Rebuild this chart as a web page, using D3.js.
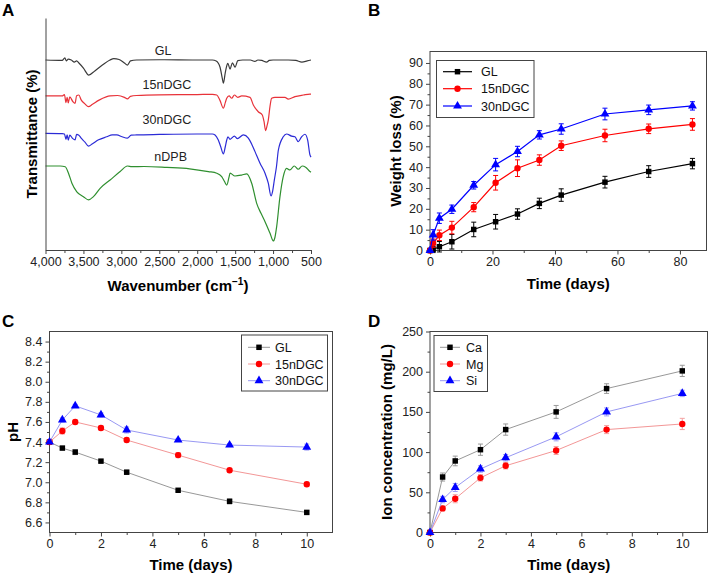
<!DOCTYPE html>
<html><head><meta charset="utf-8">
<script src="https://cdn.jsdelivr.net/npm/d3@7"></script>
<style>
body{margin:0;background:#fff;}
svg{display:block;font-family:"Liberation Sans",Arial,sans-serif;}
</style></head><body>
<svg id="c" width="708" height="573"></svg>
<script>
// ---------- Panel A: FTIR spectra (wavenumber, transmittance %) ----------
const ftirNames = ["GL","15nDGC","30nDGC","nDPB"];
const ftirGL = [[4000,81.9],[3780,81.7],[3745,82.8],[3725,81.5],[3700,82.3],[3660,81.9],[3620,81.0],[3590,81.5],[3560,80.6],[3500,78.4],[3430,75.4],[3350,77.2],[3250,79.7],[3150,81.9],[3100,82.5],[3030,82.1],[2960,80.6],[2920,79.7],[2880,81.5],[2800,81.9],[2500,82.0],[2000,81.9],[1800,81.9],[1750,81.5],[1700,78.9],[1670,74.1],[1655,71.9],[1630,76.5],[1610,79.5],[1597,80.5],[1567,78.0],[1536,80.7],[1501,78.8],[1465,81.6],[1400,81.9],[1300,81.9],[1240,81.3],[1200,81.9],[1150,81.7],[1085,81.0],[1050,81.7],[1000,81.9],[800,81.9],[700,81.7],[620,81.0],[550,81.5],[500,81.9]];
const ftir15 = [[4000,66.4],[3780,66.4],[3750,67.0],[3730,63.5],[3715,65.8],[3700,63.4],[3680,66.0],[3640,64.0],[3610,63.2],[3590,66.5],[3560,66.8],[3530,64.7],[3480,63.0],[3434,61.8],[3380,62.8],[3300,64.5],[3200,66.0],[3148,66.4],[3050,66.6],[2960,65.8],[2920,65.1],[2880,66.2],[2800,66.6],[2500,66.9],[2000,67.0],[1800,67.1],[1742,66.8],[1700,64.5],[1655,61.1],[1630,63.5],[1611,65.4],[1580,66.4],[1545,65.4],[1510,66.8],[1466,65.8],[1413,66.4],[1304,65.8],[1260,62.5],[1195,59.6],[1142,58.2],[1120,55.5],[1098,51.4],[1080,53.5],[1063,56.0],[1040,62.0],[1019,65.4],[975,65.8],[843,65.8],[800,65.0],[712,66.1],[600,66.8],[514,67.2],[500,67.2]];
const ftir30 = [[4000,50.3],[3780,50.2],[3750,50.0],[3730,47.7],[3715,49.6],[3700,47.4],[3680,49.5],[3640,48.0],[3610,47.5],[3590,49.8],[3560,49.5],[3530,48.2],[3480,46.5],[3434,44.8],[3380,45.8],[3300,47.5],[3192,48.8],[3120,49.6],[3060,49.6],[2990,48.8],[2920,48.2],[2870,49.5],[2800,49.6],[2500,49.8],[2000,50.0],[1800,50.0],[1765,49.6],[1722,47.4],[1690,44.5],[1655,41.4],[1630,44.5],[1611,47.4],[1595,48.8],[1567,47.7],[1510,49.1],[1470,48.0],[1392,49.6],[1326,48.2],[1280,45.5],[1238,42.4],[1172,37.4],[1106,33.1],[1063,28.8],[1027,23.3],[1005,25.5],[983,30.2],[955,36.0],[930,43.1],[866,48.8],[822,50.0],[756,49.1],[712,48.8],[668,46.7],[624,48.8],[580,49.9],[544,47.4],[514,41.0],[500,40.0]];
const ftirDPB = [[4000,36.2],[3806,36.2],[3740,35.9],[3697,33.1],[3652,28.8],[3587,25.1],[3500,23.0],[3434,21.6],[3368,23.0],[3280,26.6],[3148,30.2],[3016,33.8],[2920,36.2],[2862,35.9],[2700,36.0],[2400,35.6],[2100,35.0],[1853,33.8],[1742,33.1],[1677,31.6],[1640,29.5],[1611,28.0],[1580,31.5],[1567,33.1],[1502,31.9],[1413,32.3],[1348,32.8],[1282,28.8],[1216,20.1],[1159,15.8],[1106,12.2],[1040,7.2],[997,3.9],[975,5.5],[953,10.0],[909,23.0],[866,31.6],[822,35.2],[778,34.5],[721,36.2],[668,34.8],[616,36.2],[571,35.7],[514,33.8],[500,33.5]];
const ftirLabelPos = [[2450,84],[2400,69.5],[2400,54.5],[2350,38.5]]; // label anchor (wavenumber, transmittance)
const ftirTicks = [4000,3500,3000,2500,2000,1500,1000,500];

// ---------- Panel B: weight loss ----------
const bDays = [0,1,3,7,14,21,28,35,42,56,70,84];
const bNames = ["GL","15nDGC","30nDGC"];
const bGL = [0,0.5,1.8,4.2,10.1,13.8,17.5,22.6,26.6,32.8,37.9,41.7];
const bGLerr = [0,1.5,2.5,3.5,3.5,3.5,2.5,2.5,3,2.8,2.8,2.5];
const b15 = [0,3.5,7.3,11.0,20.8,32.5,39.5,43.4,50.3,55.2,58.4,60.5];
const b15err = [0,2,2.5,3,2.2,3.5,4,2.5,2.3,3,2.3,2.8];
const b30 = [0,7.5,15.5,19.8,31.3,41.2,47.5,55.5,58.3,65.5,67.5,69.4];
const b30err = [0,2.5,2.5,2,1.8,3,2.5,2,2.5,2.8,2.3,2];
const bYTicks = [0,10,20,30,40,50,60,70,80,90];
const bXTicks = [0,20,40,60,80];

// ---------- Panel C: pH ----------
const cDays = [0,0.5,1,2,3,5,7,10];
const cGL = [7.40,7.34,7.30,7.21,7.10,6.92,6.81,6.70];
const cGLerr = [0.01,0.015,0.025,0.01,0.02,0.01,0.025,0.015];
const c15 = [7.40,7.51,7.60,7.54,7.42,7.27,7.12,6.98];
const c15err = [0.01,0.03,0.02,0.02,0.02,0.025,0.015,0.02];
const c30 = [7.40,7.62,7.76,7.67,7.52,7.42,7.37,7.35];
const c30err = [0.01,0.02,0.015,0.02,0.03,0.015,0.015,0.03];
const cYTicks = [6.6,6.8,7.0,7.2,7.4,7.6,7.8,8.0,8.2,8.4];
const cXTicks = [0,2,4,6,8,10];

// ---------- Panel D: ion concentration ----------
const dNames = ["Ca","Mg","Si"];
const dCa = [0,69,89,103,128,150,179,201];
const dCaErr = [0,5,6,7,7,8,6,7];
const dMg = [0,30,42,68,83,102,128,135];
const dMgErr = [0,3,5,4,4,5,5,7];
const dSi = [0,41,56,79,93,119,150,173];
const dSiErr = [0,4,5,4,4,5,5,4];
const dYTicks = [0,50,100,150,200,250];

const svg = d3.select("#c");
const FONT = "Liberation Sans, Arial, sans-serif";

function letter(t,x,y){
  svg.append("text").attr("x",x).attr("y",y).attr("font-size",17).attr("font-weight","bold").text(t);
}

// ---------------- Panel A ----------------
(function(){
  const x = d3.scaleLinear().domain([4000,500]).range([45.5,311]);
  const y = d3.scaleLinear().domain([0,100]).range([250,18]);
  const g = svg.append("g");
  const colors = ["#3a3a3a","#e8333a","#2b2bd6","#2f8f2f"];
  const data = [ftirGL,ftir15,ftir30,ftirDPB];
  const line = d3.line().x(d=>x(d[0])).y(d=>y(d[1])).curve(d3.curveMonotoneX);
  data.forEach((s,i)=>{
    g.append("path").attr("d",line(s)).attr("fill","none").attr("stroke",colors[i]).attr("stroke-width",1.2);
    g.append("text").attr("x",x(ftirLabelPos[i][0])).attr("y",y(ftirLabelPos[i][1]))
      .attr("text-anchor","middle").attr("font-size",12.5).attr("fill","#222").text(ftirNames[i]);
  });
  const ax = g.append("g").attr("transform","translate(0,250)")
    .call(d3.axisBottom(x).tickValues(ftirTicks).tickFormat(d3.format(",")).tickSize(4).tickSizeOuter(0));
  g.append("g").attr("transform","translate(0,250)")
    .call(d3.axisBottom(x).tickValues(d3.range(3750,500,-500)).tickFormat("").tickSize(3).tickSizeOuter(0));
  g.append("g").attr("transform","translate(45.5,0)")
    .call(d3.axisLeft(y).tickValues([]).tickSizeOuter(0));
  g.selectAll(".domain,.tick line").attr("stroke","#444");
  ax.selectAll("text").attr("font-size",12.5).attr("font-family",FONT).attr("fill","#222").attr("dy","0.75em").attr("y",7);
  const xt = g.append("text").attr("x",178).attr("y",291).attr("text-anchor","middle").attr("font-size",15).attr("font-weight","bold");
  xt.append("tspan").text("Wavenumber (cm");
  xt.append("tspan").attr("font-size",10).attr("dy",-6).text("\u22121");
  xt.append("tspan").attr("dy",6).text(")");
  g.append("text").attr("transform","translate(37,134) rotate(-90)").attr("text-anchor","middle")
    .attr("font-size",15).attr("font-weight","bold").text("Transmittance (%)");
  letter("A",2,16);
})();

// ---------------- generic XY panel ----------------
function xyPanel(cfg){
  const x = d3.scaleLinear().domain(cfg.xDomain).range([cfg.left,cfg.right]);
  const y = d3.scaleLinear().domain(cfg.yDomain).range([cfg.bottom,cfg.top]);
  const g = svg.append("g");
  // axes
  const xa = g.append("g").attr("transform",`translate(0,${cfg.bottom})`)
    .call(d3.axisBottom(x).tickValues(cfg.xTicks).tickSize(4).tickSizeOuter(0).tickFormat(cfg.xFormat||d3.format("d")));
  g.append("g").attr("transform",`translate(0,${cfg.bottom})`)
    .call(d3.axisBottom(x).tickValues(cfg.xMinor).tickSize(2.5).tickSizeOuter(0).tickFormat(""));
  const ya = g.append("g").attr("transform",`translate(${cfg.left},0)`)
    .call(d3.axisLeft(y).tickValues(cfg.yTicks).tickSize(4).tickSizeOuter(0).tickFormat(cfg.yFormat||d3.format("d")));
  g.append("g").attr("transform",`translate(${cfg.left},0)`)
    .call(d3.axisLeft(y).tickValues(cfg.yMinor).tickSize(2.5).tickSizeOuter(0).tickFormat(""));
  g.selectAll(".domain").remove();
  g.selectAll(".tick line").attr("stroke","#444");
  xa.selectAll("text").attr("font-size",12.5).attr("font-family",FONT).attr("fill","#222");
  ya.selectAll("text").attr("font-size",12.5).attr("font-family",FONT).attr("fill","#222");
  g.append("rect").attr("x",cfg.left).attr("y",cfg.top).attr("width",cfg.right-cfg.left).attr("height",cfg.bottom-cfg.top)
    .attr("fill","none").attr("stroke","#444").attr("stroke-width",1);
  // series
  const symbols = [d3.symbolSquare,d3.symbolCircle,d3.symbolTriangle];
  const symSizes = [30,32,34];
  cfg.series.forEach((s,i)=>{
    const pts = cfg.xs.map((d,k)=>({x:d,v:s.v[k],e:s.e[k]}));
    g.append("path").attr("d",d3.line().x(d=>x(d.x)).y(d=>y(d.v))(pts))
      .attr("fill","none").attr("stroke",s.line).attr("stroke-width",cfg.lw);
    const eb = g.append("g").attr("stroke",s.err).attr("stroke-width",1);
    pts.forEach(p=>{
      if(!p.e) return;
      const cx=x(p.x), y1=y(p.v-p.e), y2=y(p.v+p.e);
      eb.append("line").attr("x1",cx).attr("x2",cx).attr("y1",y1).attr("y2",y2);
      eb.append("line").attr("x1",cx-2.5).attr("x2",cx+2.5).attr("y1",y1).attr("y2",y1);
      eb.append("line").attr("x1",cx-2.5).attr("x2",cx+2.5).attr("y1",y2).attr("y2",y2);
    });
    g.selectAll(null).data(pts).enter().append("path")
      .attr("d",d3.symbol().type(symbols[i]).size(symSizes[i]))
      .attr("transform",d=>`translate(${x(d.x)},${y(d.v)})`).attr("fill",s.color);
  });
  // legend
  const L = cfg.legend;
  g.append("rect").attr("x",L.x0).attr("y",L.y0).attr("width",L.x1-L.x0).attr("height",L.y1-L.y0)
    .attr("fill","#fff").attr("stroke","#444").attr("stroke-width",1);
  cfg.series.forEach((s,i)=>{
    const yy = L.rows[i];
    g.append("line").attr("x1",L.l0).attr("x2",L.l1).attr("y1",yy).attr("y2",yy).attr("stroke",s.line).attr("stroke-width",cfg.lw);
    g.append("path").attr("d",d3.symbol().type(symbols[i]).size(symSizes[i])())
      .attr("transform",`translate(${(L.l0+L.l1)/2},${yy})`).attr("fill",s.color);
    g.append("text").attr("x",L.tx).attr("y",yy).attr("dy","0.36em").attr("font-size",12.5).attr("fill","#111").text(s.name);
  });
  // titles
  g.append("text").attr("x",(cfg.left+cfg.right)/2).attr("y",cfg.xTitleY).attr("text-anchor","middle")
    .attr("font-size",15).attr("font-weight","bold").text(cfg.xTitle);
  g.append("text").attr("transform",`translate(${cfg.yTitleX},${(cfg.top+cfg.bottom)/2}) rotate(-90)`)
    .attr("text-anchor","middle").attr("font-size",15).attr("font-weight","bold").text(cfg.yTitle);
}

// Panel B
xyPanel({
  left:430,right:706.5,top:51.5,bottom:250.5,
  xDomain:[0,88.5],yDomain:[0,95.5],
  xTicks:bXTicks,xMinor:[10,30,50,70],
  yTicks:bYTicks,yMinor:d3.range(5,95,10),
  xs:bDays,lw:1.2,
  series:[
    {name:bNames[0],v:bGL,e:bGLerr,color:"#000",line:"#000",err:"#000"},
    {name:bNames[1],v:b15,e:b15err,color:"#f00",line:"#f00",err:"#f00"},
    {name:bNames[2],v:b30,e:b30err,color:"#00f",line:"#00f",err:"#00f"}
  ],
  legend:{x0:436.5,x1:534,y0:60.5,y1:117.5,rows:[71.7,88.7,106],l0:443,l1:472,tx:481},
  xTitle:"Time (days)",xTitleY:289,yTitle:"Weight loss (%)",yTitleX:401
});
letter("B",368,16);

// Panel C
xyPanel({
  left:49.5,right:332.5,top:331.5,bottom:532.5,
  xDomain:[0,11],yDomain:[6.5,8.5],
  xTicks:cXTicks,xMinor:[1,3,5,7,9],
  yTicks:cYTicks,yMinor:d3.range(6.7,8.5,0.2),yFormat:d3.format(".1f"),
  xs:cDays,lw:0.9,
  series:[
    {name:bNames[0],v:cGL,e:cGLerr,color:"#000",line:"#8c8c8c",err:"#aaa"},
    {name:bNames[1],v:c15,e:c15err,color:"#f00",line:"#f08a8a",err:"#f5a0a0"},
    {name:bNames[2],v:c30,e:c30err,color:"#00f",line:"#8c8cf0",err:"#a0a0f5"}
  ],
  legend:{x0:241.5,x1:327.5,y0:335,y1:391,rows:[347.3,364,380.7],l0:248,l1:270,tx:275},
  xTitle:"Time (days)",xTitleY:570,yTitle:"pH",yTitleX:18
});
letter("C",2,327);

// Panel D
xyPanel({
  left:430,right:707.5,top:331.5,bottom:532.5,
  xDomain:[0,11],yDomain:[0,250],
  xTicks:cXTicks,xMinor:[1,3,5,7,9],
  yTicks:dYTicks,yMinor:[25,75,125,175,225],
  xs:cDays,lw:0.9,
  series:[
    {name:dNames[0],v:dCa,e:dCaErr,color:"#000",line:"#8c8c8c",err:"#999"},
    {name:dNames[1],v:dMg,e:dMgErr,color:"#f00",line:"#f08a8a",err:"#f5a0a0"},
    {name:dNames[2],v:dSi,e:dSiErr,color:"#00f",line:"#8c8cf0",err:"#a0a0f5"}
  ],
  legend:{x0:434,x1:487.5,y0:335.5,y1:391.5,rows:[347.3,364,380.7],l0:440,l1:460,tx:466},
  xTitle:"Time (days)",xTitleY:570,yTitle:"Ion concentration (mg/L)",yTitleX:392
});
letter("D",368,327);
</script></body></html>
